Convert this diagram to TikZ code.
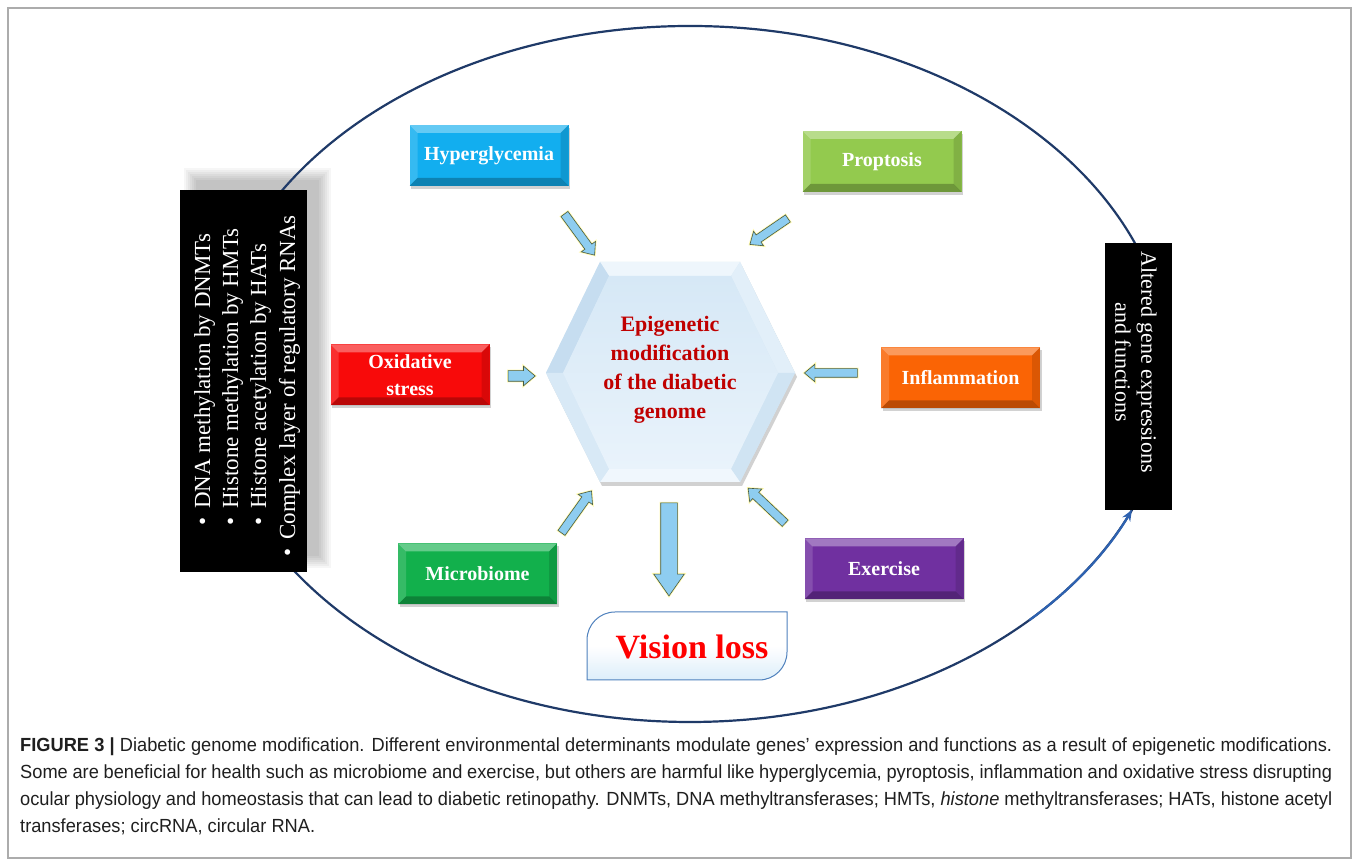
\documentclass[tikz,border=0pt]{standalone}
\usepackage{fontspec}
\setmainfont{Liberation Serif}
\newfontfamily\capfont{Liberation Sans}[FakeStretch=0.96]
\usetikzlibrary{shapes.arrows,shadows,arrows.meta}
\definecolor{hypercol}{HTML}{12AEEF}
\definecolor{propcol}{HTML}{93CA4E}
\definecolor{oxicol}{HTML}{F80A0A}
\definecolor{inflcol}{HTML}{FA6405}
\definecolor{microcol}{HTML}{12B04C}
\definecolor{exercol}{HTML}{7030A0}
\definecolor{ellcol}{HTML}{1F3A68}
\definecolor{tipcol}{HTML}{2E62B0}
\definecolor{arrowfill}{HTML}{8ECDF0}
\definecolor{arrowedge}{HTML}{4A5A40}
\definecolor{epired}{HTML}{C00000}
\definecolor{vlborder}{HTML}{4F81BD}
\definecolor{vlfill}{HTML}{DCEEFA}
\definecolor{hexbase}{HTML}{D5E8F6}
\definecolor{hextop}{HTML}{EEF6FC}
\definecolor{hexul}{HTML}{C6DDF0}
\definecolor{hexur}{HTML}{E2EFF9}
\definecolor{hexlr}{HTML}{D0E4F3}
\definecolor{hexbot}{HTML}{F0F7FD}
\definecolor{hexll}{HTML}{D8E9F6}
\definecolor{hexintop}{HTML}{D6E8F6}
\definecolor{hexinbot}{HTML}{E9F3FB}
\tikzset{
  bevel/.style={rectangle, fill=#1, text=white, inner sep=0pt, align=center,
    minimum width=159pt, minimum height=61pt,
    font=\bfseries\fontsize{20}{27}\selectfont,
    drop shadow={shadow xshift=1.5pt, shadow yshift=-3pt, opacity=0.35},
    path picture={
      \coordinate (bvsw) at (path picture bounding box.south west);
      \coordinate (bvne) at (path picture bounding box.north east);
      \coordinate (bvnw) at (bvsw |- bvne);
      \coordinate (bvse) at (bvne |- bvsw);
      \fill[white,opacity=.35] (bvnw) -- (bvne) -- ([shift={(-8pt,-8pt)}]bvne) -- ([shift={(8pt,-8pt)}]bvnw) -- cycle;
      \fill[black,opacity=.25] (bvsw) -- (bvse) -- ([shift={(-8pt,8pt)}]bvse) -- ([shift={(8pt,8pt)}]bvsw) -- cycle;
      \fill[black,opacity=.12] (bvne) -- (bvse) -- ([shift={(-8pt,8pt)}]bvse) -- ([shift={(-8pt,-8pt)}]bvne) -- cycle;
      \fill[white,opacity=.15] (bvnw) -- (bvsw) -- ([shift={(8pt,8pt)}]bvsw) -- ([shift={(8pt,-8pt)}]bvnw) -- cycle;
    }},
  sarrow/.style={single arrow, fill=arrowfill, draw=arrowedge, line width=0.6pt,
    inner xsep=0pt, inner ysep=4pt, single arrow head extend=4.5pt, single arrow head indent=0pt,
    single arrow tip angle=80,
    preaction={draw=yellow!45, line width=2.2pt, opacity=.7}},
  lt/.style={rotate=90, text=white, inner sep=0pt, anchor=base west,
    font=\fontsize{23}{26}\selectfont},
  capline/.style={anchor=base west, inner sep=0pt, text=black!88,
    font=\capfont\fontsize{19}{27}\selectfont},
}
\begin{document}
\begin{tikzpicture}[x=1pt,y=1pt]
\useasboundingbox (0,0) rectangle (1358,866);
\fill[white] (0,0) rectangle (1358,866);
\draw[gray!65, line width=1.2pt] (8,8) rectangle (1351,858);

% soft shadow of left box
\foreach \b in {12,10,8,6,4,2,0}
  \fill[black, opacity=0.035] (196-\b,310-\b) rectangle (319+\b,686+\b);

% ellipse loop
\draw[ellcol, line width=2.2pt] (690,492) ellipse [x radius=480, y radius=348];
\draw[tipcol, line width=2.2pt, -{Stealth[length=11pt,width=9pt]}]
  (690,492) ++(-45:480 and 348) arc[start angle=-45, end angle=-23, x radius=480, y radius=348];

% left black box
\node[fill=black, minimum width=127pt, minimum height=382pt, inner sep=0pt] (lbox) at (243.5,485) {};
\node[lt] (l1) at (210,340) {\textbullet\hspace{9pt}DNA methylation by DNMTs};
\node[lt] (l2) at (238,340) {\textbullet\hspace{9pt}Histone methylation by HMTs};
\node[lt] (l3) at (266,340) {\textbullet\hspace{9pt}Histone acetylation by HATs};
\node[lt] (l4) at (295,309) {\textbullet\hspace{9pt}Complex layer of regulatory RNAs};

% right black box
\node[fill=black, minimum width=67pt, minimum height=267pt, inner sep=0pt] (rbox) at (1138.5,489.5) {};
\node[rotate=-90, text=white, align=center, inner sep=0pt,
  font=\fontsize{22}{26}\selectfont] (rtext) at (1136,504) {Altered gene expressions\\and functions};

% beveled boxes
\node[bevel=hypercol] (hyp) at (489,710.5) {Hyperglycemia};
\node[bevel=propcol] (prop) at (882,704.5) {Proptosis};
\node[bevel=oxicol] (oxi) at (410,491) {Oxidative\\stress};
\node[bevel=inflcol] (infl) at (960.5,488) {Inflammation};
\node[bevel=microcol] (micro) at (477.5,292) {Microbiome};
\node[bevel=exercol] (exer) at (884,297) {Exercise};

% hexagon
\coordinate (hL) at (546,493);
\coordinate (hTL) at (600,604);
\coordinate (hTR) at (740,604);
\coordinate (hR) at (795,493);
\coordinate (hBR) at (740,384);
\coordinate (hBL) at (600,384);
\coordinate (iL) at (563,493);
\coordinate (iTL) at (609,590);
\coordinate (iTR) at (731,590);
\coordinate (iR) at (778,493);
\coordinate (iBR) at (731,397);
\coordinate (iBL) at (609,397);
\fill[black, opacity=0.18] ([shift={(2,-4)}]hL) -- ([shift={(2,-4)}]hTL) -- ([shift={(2,-4)}]hTR) -- ([shift={(2,-4)}]hR) -- ([shift={(2,-4)}]hBR) -- ([shift={(2,-4)}]hBL) -- cycle;
\fill[hexbase] (hL) -- (hTL) -- (hTR) -- (hR) -- (hBR) -- (hBL) -- cycle;
\fill[hextop] (hTL) -- (hTR) -- (iTR) -- (iTL) -- cycle;
\fill[hexul] (hL) -- (hTL) -- (iTL) -- (iL) -- cycle;
\fill[hexur] (hTR) -- (hR) -- (iR) -- (iTR) -- cycle;
\fill[hexlr] (hR) -- (hBR) -- (iBR) -- (iR) -- cycle;
\fill[hexbot] (hBR) -- (hBL) -- (iBL) -- (iBR) -- cycle;
\fill[hexll] (hBL) -- (hL) -- (iL) -- (iBL) -- cycle;
\shade[top color=hexintop, bottom color=hexinbot]
  (iL) -- (iTL) -- (iTR) -- (iR) -- (iBR) -- (iBL) -- cycle;
\node[font=\bfseries\fontsize{22}{29}\selectfont, text=epired, align=center] (epi) at (670,496)
  {Epigenetic\\modification\\of the diabetic\\genome};

% vision loss
\path[draw=vlborder, line width=1pt, top color=white, bottom color=vlfill, middle color=white]
  (587,186) -- (587,226) arc[start angle=180, end angle=90, radius=28] -- (787,254)
  -- (787,214) arc[start angle=0, end angle=-90, radius=28] -- cycle;
\node[font=\bfseries\fontsize{34}{40}\selectfont, text=red] (vl) at (692,219) {Vision loss};

% block arrows
\node[sarrow, minimum height=51pt, rotate=-53.8] (a1) at (578,633.5) {};
\node[sarrow, minimum height=46pt, rotate=-145.6] (a2) at (771,636) {};
\node[sarrow, minimum height=27pt, inner ysep=5pt, rotate=0] (a3) at (518.5,490) {};
\node[sarrow, minimum height=53pt, rotate=180] (a4) at (833.5,493) {};
\node[sarrow, minimum height=51.6pt, rotate=54.5] (a5) at (575,352) {};
\node[sarrow, minimum height=51pt, rotate=136.6] (a6) at (768.5,358.5) {};
\node[sarrow, minimum height=93pt, inner ysep=8pt, single arrow head extend=7pt,
  single arrow tip angle=70, rotate=-90] (a7) at (669,322.5) {};

% caption
\node[capline] (c1) at (20,114) {\hbox to 1312pt{\textbf{FIGURE 3 |} Diabetic genome modification. Different environmental determinants modulate genes’ expression and functions as a result of epigenetic modifications.}};
\node[capline] (c2) at (20,87) {\hbox to 1312pt{Some are beneficial for health such as microbiome and exercise, but others are harmful like hyperglycemia, pyroptosis, inflammation and oxidative stress disrupting}};
\node[capline] (c3) at (20,60) {\hbox to 1312pt{ocular physiology and homeostasis that can lead to diabetic retinopathy. DNMTs, DNA methyltransferases; HMTs, \textit{histone} methyltransferases; HATs, histone acetyl}};
\node[capline] (c4) at (20,33) {transferases; circRNA, circular RNA.};
\end{tikzpicture}
\end{document}
